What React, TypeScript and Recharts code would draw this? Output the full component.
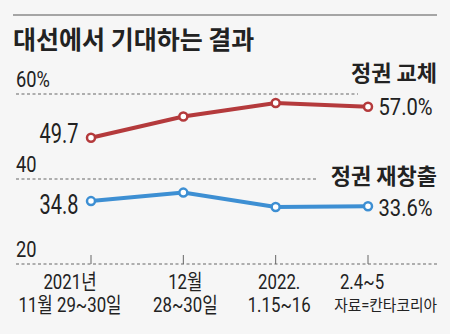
import React from 'react';
import { LineChart, Line, XAxis, YAxis, LabelList } from 'recharts';

// ---- data ----
const title = '대선에서 기대하는 결과';
const source = '자료=칸타코리아';
const catLine1 = ['2021년', '12월', '2022.', '2.4~5'];
const catLine2 = ['11월 29~30일', '28~30일', '1.15~16', ''];
const changeValues = [49.7, 54.7, 57.9, 57.0]; // 정권 교체
const continueValues = [34.8, 36.8, 33.4, 33.6]; // 정권 재창출
const seriesNames = ['정권 교체', '정권 재창출'];
const yTicks = [20, 40, 60];

const data = catLine1.map((c, i) => ({
  cat: c,
  change: changeValues[i],
  cont: continueValues[i],
}));

// ---- style ----
const W = 450;
const H = 334;
const FONT = "Roboto, 'Noto Sans CJK KR', sans-serif";
const KFONT = "'Noto Sans CJK KR', sans-serif";
const TEXT = '#222';
const RED = '#b43a3c';
const BLUE = '#3d8fd3';
const GRID = '#666';
const BG = '#f6f6f6';
const gridEnd: Record<number, number> = { 60: 358, 40: 317, 20: 438 };
const xLabelShift = [-21, 2, 3.5, -6];

function CText({ x, y, anchor = 'start', size, sx = 1, weight = 400, fill = TEXT, family = FONT, children }: any) {
  return (
    <text
      transform={`translate(${x},${y}) scale(${sx},1)`}
      textAnchor={anchor}
      fontSize={size}
      fontWeight={weight}
      fill={fill}
      fontFamily={family}
    >
      {children}
    </text>
  );
}

function renderYTick(props: any) {
  const { y, payload } = props;
  const v = Number(payload.value);
  return (
    <g key={`yt-${v}`}>
      <line x1={16} x2={gridEnd[v] ?? 438} y1={y} y2={y} stroke={GRID} strokeWidth={1} strokeDasharray="3 2.5" />
      <CText x={16} y={y - 7.5} size={22} sx={0.83}>{v === 60 ? `${v}%` : String(v)}</CText>
    </g>
  );
}

function renderXTick(props: any) {
  const { x, y, index } = props;
  const cx = x + xLabelShift[index];
  return (
    <g key={`xt-${index}`}>
      <line x1={x} x2={x} y1={y - 9} y2={y} stroke={GRID} strokeWidth={1} />
      <CText x={cx} y={y + 25} anchor="middle" size={21} sx={0.8}>{catLine1[index]}</CText>
      {catLine2[index] ? (
        <CText x={cx} y={y + 48} anchor="middle" size={21} sx={0.8}>{catLine2[index]}</CText>
      ) : null}
      {index === catLine1.length - 1 ? (
        <CText x={437} y={y + 47} anchor="end" size={16} sx={0.92}>{source}</CText>
      ) : null}
    </g>
  );
}

function makeLabel(name: string, firstDy: number, lastDy: number, nameDy: number) {
  return (props: any) => {
    const { x, y, value, index } = props;
    const last = data.length - 1;
    if (index === 0) {
      return <CText x={x - 12.5} y={y + firstDy} anchor="end" size={27} sx={0.74}>{Number(value).toFixed(1)}</CText>;
    }
    if (index === last) {
      return (
        <g>
          <CText x={x + 10.5} y={y + lastDy} size={24} sx={0.84}>{`${Number(value).toFixed(1)}%`}</CText>
          <CText x={437} y={y + nameDy} anchor="end" size={22} weight={700} family={KFONT}>{name}</CText>
        </g>
      );
    }
    return null;
  };
}

export default function App() {
  return (
    <div style={{ position: 'absolute', left: 0, top: 0, width: W, height: H, background: BG, overflow: 'hidden' }}>
      <div style={{ position: 'absolute', left: 0, top: 0 }}>
        <LineChart width={W} height={H} data={data} margin={{ top: 94, right: 12, bottom: 69, left: 15 }}>
          <XAxis
            dataKey="cat"
            height={1}
            padding={{ left: 75, right: 70 }}
            axisLine={false}
            tickLine={false}
            tickSize={0}
            tickMargin={0}
            interval={0}
            tick={renderXTick}
          />
          <YAxis
            domain={[20, 60]}
            ticks={yTicks}
            width={1}
            axisLine={false}
            tickLine={false}
            interval={0}
            tick={renderYTick}
          />
          <Line
            dataKey="change"
            type="linear"
            stroke={RED}
            strokeWidth={4}
            dot={{ r: 4, fill: '#fff', stroke: RED, strokeWidth: 2.5 }}
            activeDot={false}
            isAnimationActive={false}
          >
            <LabelList dataKey="change" content={makeLabel(seriesNames[0], 5, 8.5, -26)} />
          </Line>
          <Line
            dataKey="cont"
            type="linear"
            stroke={BLUE}
            strokeWidth={4}
            dot={{ r: 4, fill: '#fff', stroke: BLUE, strokeWidth: 2.5 }}
            activeDot={false}
            isAnimationActive={false}
          >
            <LabelList dataKey="cont" content={makeLabel(seriesNames[1], 12.5, 9.5, -22)} />
          </Line>
        </LineChart>
      </div>
      <svg width={W} height={H} style={{ position: 'absolute', left: 0, top: 0, pointerEvents: 'none' }}>
        <line x1={13} x2={437} y1={15} y2={15} stroke="#8a8a8a" strokeWidth={1.5} />
        <text x={13} y={49} fontSize={25} fontWeight={700} fill={TEXT} fontFamily={KFONT}>{title}</text>
      </svg>
    </div>
  );
}
